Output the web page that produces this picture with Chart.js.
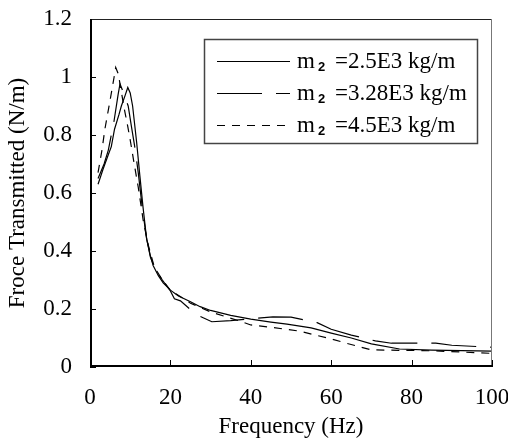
<!DOCTYPE html>
<html>
<head>
<meta charset="utf-8">
<script src="https://cdn.jsdelivr.net/npm/chart.js@4"></script>
<style>
  html, body { margin:0; padding:0; background:#fff; }
  #wrap { width:508px; height:441px; }
</style>
</head>
<body>
<div id="wrap"><canvas id="chart1" width="508" height="441"></canvas></div>
<script>
// tick labels
const xTicks = [0, 20, 40, 60, 80, 100];
const yTicks = [0, 0.2, 0.4, 0.6, 0.8, 1, 1.2];

// series labels (legend): m2 = ...
const seriesLabels = ["m\u2082 =2.5E3 kg/m", "m\u2082 =3.28E3 kg/m", "m\u2082 =4.5E3 kg/m"];
const seriesMass = ["=2.5E3 kg/m", "=3.28E3 kg/m", "=4.5E3 kg/m"];

// m2 = 2.5E3 kg/m (solid)
const freqA  = [2, 3.2, 4.5, 5.3, 6.1, 7.2, 7.8, 8.7, 9.4, 10, 10.6, 11.6, 12.4, 13.2, 14.1, 15, 15.7, 17, 18.2, 20, 22, 25, 27.4, 30, 35, 40, 45, 49, 55, 60, 65, 70, 77, 85, 100];
const forceA = [0.63, 0.68, 0.73, 0.76, 0.82, 0.87, 0.9, 0.935, 0.964, 0.945, 0.9, 0.775, 0.66, 0.55, 0.44, 0.385, 0.35, 0.315, 0.29, 0.265, 0.245, 0.225, 0.208, 0.195, 0.178, 0.165, 0.155, 0.148, 0.135, 0.117, 0.1, 0.08, 0.062, 0.058, 0.055];

// m2 = 3.28E3 kg/m (long dash)
const freqB  = [2, 3.5, 4.56, 6, 7, 7.46, 8.2, 9, 9.5, 10.3, 11.2, 12, 13, 14, 15, 16, 18, 20, 21, 22.5, 26.5, 30.3, 35, 41.5, 45.5, 50, 56.5, 60, 65, 71, 75, 86, 90, 100];
const forceB = [0.65, 0.7, 0.748, 0.85, 0.94, 0.976, 0.95, 0.92, 0.9, 0.83, 0.754, 0.67, 0.55, 0.45, 0.38, 0.345, 0.3, 0.262, 0.235, 0.228, 0.18, 0.156, 0.16, 0.168, 0.173, 0.172, 0.153, 0.13, 0.11, 0.09, 0.082, 0.082, 0.075, 0.068];

// m2 = 4.5E3 kg/m (short dash)
const freqC  = [2, 3, 3.7, 5, 6, 6.4, 7.05, 8.5, 9.4, 10, 11, 12, 13.3, 14.5, 16, 18, 20, 25, 30, 37.3, 40, 45, 52, 60, 64, 70, 85, 100];
const forceC = [0.67, 0.75, 0.82, 0.92, 1.0, 1.033, 1.01, 0.892, 0.829, 0.783, 0.7, 0.62, 0.5, 0.42, 0.345, 0.3, 0.265, 0.22, 0.19, 0.158, 0.145, 0.137, 0.124, 0.097, 0.081, 0.059, 0.056, 0.047];

const FONT = "'Liberation Serif', 'Times New Roman', serif";
const FS = 23;
const dashes = [[], [45, 14], [8, 7]];

function pts(xs, ys){
  let a = [];
  for (let i=0;i<xs.length;++i) a.push({x: xs[i], y: ys[i]});
  return a;
}
function makeSet(i, xs, ys){
  return { label: seriesLabels[i], data: pts(xs, ys), showLine: true, borderColor: "#000", borderWidth: 1.2,
           borderDash: dashes[i], pointRadius: 0, tension: 0, fill: false };
}

// frame, inward ticks and boxed legend
const framePlugin = {
  id: "frame",
  afterDraw(chart){
    const ctx = chart.ctx, a = chart.chartArea;
    const sx = chart.scales.x, sy = chart.scales.y;
    ctx.save();
    ctx.strokeStyle = "#000";
    ctx.lineWidth = 1;
    // inward ticks
    ctx.beginPath();
    for (let i=0;i<xTicks.length;++i) {
      let px = Math.round(sx.getPixelForValue(xTicks[i])) + 0.5;
      ctx.moveTo(px, a.bottom); ctx.lineTo(px, a.bottom - 7);
    }
    for (let i=0;i<yTicks.length;++i) {
      let py = Math.round(sy.getPixelForValue(yTicks[i])) + 0.5;
      ctx.moveTo(a.left, py); ctx.lineTo(a.left + 6, py);
    }
    ctx.stroke();
    // frame
    ctx.strokeStyle = "#222";
    ctx.beginPath();
    ctx.moveTo(a.left, a.top + 0.5); ctx.lineTo(a.right, a.top + 0.5);
    ctx.stroke();
    ctx.strokeStyle = "#777";
    ctx.beginPath();
    ctx.moveTo(a.right - 0.5, a.top); ctx.lineTo(a.right - 0.5, a.bottom);
    ctx.stroke();
    ctx.strokeStyle = "#000";
    ctx.lineWidth = 2;
    ctx.beginPath();
    ctx.moveTo(a.left + 1, a.top); ctx.lineTo(a.left + 1, a.bottom - 1); ctx.lineTo(a.right, a.bottom - 1);
    ctx.stroke();
    // legend
    const bx = 204, by = 39, bw = 273, bh = 104;
    ctx.lineWidth = 1.5;
    ctx.strokeStyle = "#444";
    ctx.fillStyle = "#fff";
    ctx.fillRect(bx, by, bw, bh);
    ctx.strokeRect(bx + 0.5, by + 0.5, bw, bh);
    ctx.textBaseline = "alphabetic";
    ctx.textAlign = "left";
    ctx.fillStyle = "#000";
    for (let i=0;i<seriesMass.length;++i) {
      let ly = by + 22 + i*32;
      ctx.setLineDash(dashes[i]);
      ctx.lineWidth = 1.2;
      ctx.strokeStyle = "#000";
      ctx.beginPath(); ctx.moveTo(217, ly + 0.5); ctx.lineTo(290, ly + 0.5); ctx.stroke();
      ctx.setLineDash([]);
      let base = ly + 7;
      ctx.font = FS + "px " + FONT;
      ctx.fillText("m", 297, base);
      ctx.font = "bold 13px 'Liberation Sans', Arial, sans-serif";
      ctx.fillText("2", 318, base + 3);
      ctx.font = FS + "px " + FONT;
      ctx.fillText(seriesMass[i], 335, base);
    }
    ctx.restore();
  }
};

new Chart(document.getElementById("chart1"), {
  type: "scatter",
  data: { datasets: [ makeSet(0, freqA, forceA), makeSet(1, freqB, forceB), makeSet(2, freqC, forceC) ] },
  options: {
    responsive: false,
    animation: false,
    devicePixelRatio: 1,
    layout: { padding: { top: 19, right: 16, left: 0, bottom: 0 } },
    plugins: { legend: { display: false }, tooltip: { enabled: false } },
    scales: {
      x: {
        type: "linear", min: 0, max: 100,
        afterBuildTicks: (s) => { s.ticks = xTicks.map(v => ({value: v})); },
        afterFit: (s) => { s.height = 74; s.paddingLeft = 0; s.paddingRight = 0; },
        grid: { display: false, drawTicks: false },
        border: { display: false },
        ticks: { color: "#000", padding: 17, maxRotation: 0, callback: (v) => String(v), font: { family: FONT, size: FS } },
        title: { display: true, text: "Frequency (Hz)", color: "#000", padding: { top: 0, bottom: 0 }, font: { family: FONT, size: FS, lineHeight: 1.2 } }
      },
      y: {
        type: "linear", min: 0, max: 1.2,
        afterBuildTicks: (s) => { s.ticks = yTicks.map(v => ({value: v})); },
        afterFit: (s) => { s.width = 90; s.paddingTop = 0; s.paddingBottom = 0; },
        grid: { display: false, drawTicks: false },
        border: { display: false },
        ticks: { color: "#000", padding: 18, callback: (v) => String(v), font: { family: FONT, size: FS } },
        title: { display: true, text: "Froce Transmitted (N/m)", color: "#000", padding: { top: 4, bottom: 0 }, font: { family: FONT, size: FS, lineHeight: 1.2 } }
      }
    }
  },
  plugins: [framePlugin]
});
</script>
</body>
</html>
